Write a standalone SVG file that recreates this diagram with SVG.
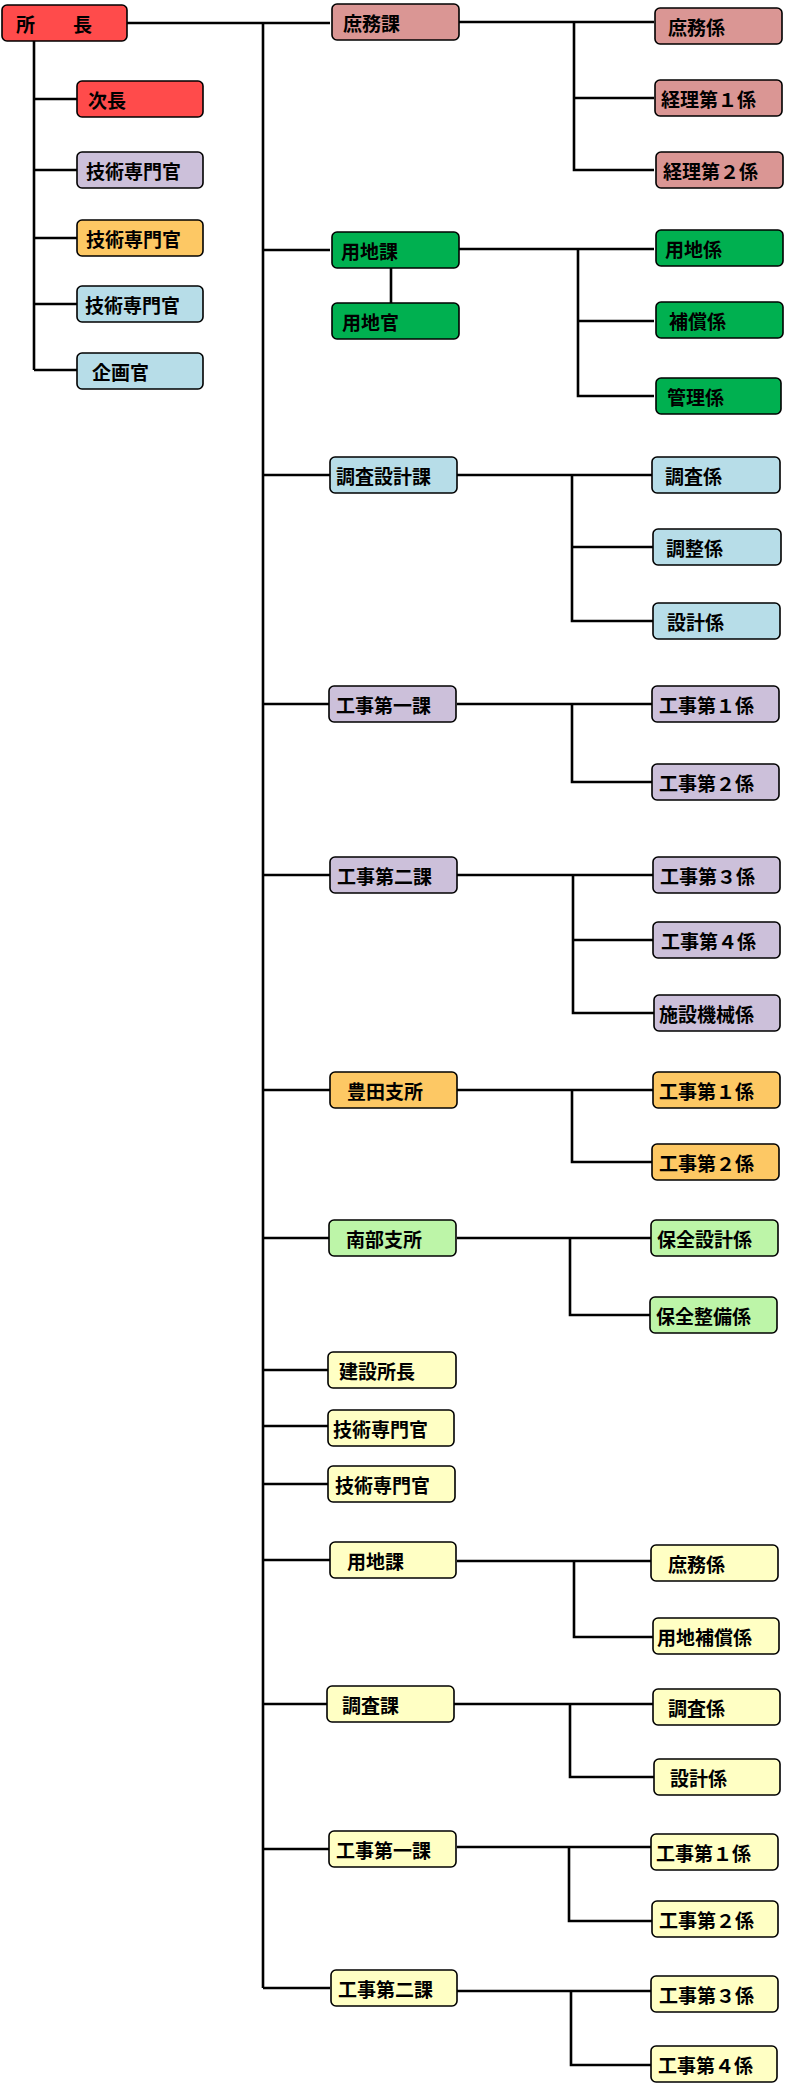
<svg xmlns="http://www.w3.org/2000/svg" width="786" height="2084" viewBox="0 0 786 2084">
<style>
rect{stroke:#000;stroke-width:1.6}
text{font-family:"Noto Sans CJK JP","Liberation Sans",sans-serif;font-weight:bold;font-size:19px;fill:#000;dominant-baseline:central}
.c{fill:none;stroke:#000;stroke-width:2.6}
.red{fill:#ff4b4b}.pink{fill:#da9694}.grn{fill:#00b050}.blu{fill:#b7dde8}.pur{fill:#ccc0da}.org{fill:#fdc864}.lg{fill:#bdf5a8}.yel{fill:#ffffc4}
</style>
<g id="connectors" class="c">
<path d="M127 23H330M263 23V1988M34 41V370M34 99H77M34 170H77M34 238H77M34 304H77M34 370H77"/>
<path d="M263 250H330M263 475H330M263 704H330M263 875H330M263 1090H330M263 1238H330M263 1370H330M263 1426H330M263 1484H330M263 1560H330M263 1704H330M263 1849H330M263 1988H330M391 268V303"/>
<path d="M457 22H654M574 22V170H654M574 98H654"/>
<path d="M457 249H654M578 249V396H654M578 321H654"/>
<path d="M457 475H654M572 475V621H654M572 547H654"/>
<path d="M457 704H654M572 704V782H654"/>
<path d="M457 875H654M573 875V1013H654M573 940H654"/>
<path d="M457 1090H654M572 1090V1162H654"/>
<path d="M457 1238H654M570 1238V1315H654"/>
<path d="M457 1561H654M574 1561V1637H654"/>
<path d="M454 1704H654M570 1704V1777H654"/>
<path d="M457 1847H654M569 1847V1921H654"/>
<path d="M457 1991H654M571 1991V2065H654"/>
</g>
<g id="n0"><rect class="red" x="2" y="5" width="125" height="36" rx="5"/><text x="16" y="23">所　　長</text></g>
<g id="l1"><rect class="red" x="77" y="81" width="126" height="36" rx="5"/><text x="88" y="99">次長</text></g>
<g id="l2"><rect class="pur" x="77" y="152" width="126" height="36" rx="5"/><text x="86" y="170">技術専門官</text></g>
<g id="l3"><rect class="org" x="77" y="220" width="126" height="36" rx="5"/><text x="86" y="238">技術専門官</text></g>
<g id="l4"><rect class="blu" x="77" y="286" width="126" height="36" rx="5"/><text x="85" y="304">技術専門官</text></g>
<g id="l5"><rect class="blu" x="77" y="353" width="126" height="36" rx="5"/><text x="92" y="371">企画官</text></g>

<g id="m1"><rect class="pink" x="332" y="4" width="127" height="36" rx="5"/><text x="343" y="22">庶務課</text></g>
<g id="m2"><rect class="grn" x="332" y="232" width="127" height="36" rx="5"/><text x="341" y="250">用地課</text></g>
<g id="m2b"><rect class="grn" x="332" y="303" width="127" height="36" rx="5"/><text x="342" y="321">用地官</text></g>
<g id="m3"><rect class="blu" x="330" y="457" width="127" height="36" rx="5"/><text x="336" y="475">調査設計課</text></g>
<g id="m4"><rect class="pur" x="329" y="686" width="127" height="36" rx="5"/><text x="336" y="704">工事第一課</text></g>
<g id="m5"><rect class="pur" x="330" y="857" width="127" height="36" rx="5"/><text x="337" y="875">工事第二課</text></g>
<g id="m6"><rect class="org" x="330" y="1072" width="127" height="36" rx="5"/><text x="347" y="1090">豊田支所</text></g>
<g id="m7"><rect class="lg" x="329" y="1220" width="127" height="36" rx="5"/><text x="346" y="1238">南部支所</text></g>
<g id="m8"><rect class="yel" x="328" y="1352" width="128" height="36" rx="5"/><text x="339" y="1370">建設所長</text></g>
<g id="m9"><rect class="yel" x="328" y="1410" width="126" height="36" rx="5"/><text x="333" y="1428">技術専門官</text></g>
<g id="m10"><rect class="yel" x="328" y="1466" width="127" height="36" rx="5"/><text x="335" y="1484">技術専門官</text></g>
<g id="m11"><rect class="yel" x="330" y="1542" width="126" height="36" rx="5"/><text x="347" y="1560">用地課</text></g>
<g id="m12"><rect class="yel" x="327" y="1686" width="127" height="36" rx="5"/><text x="342" y="1704">調査課</text></g>
<g id="m13"><rect class="yel" x="329" y="1831" width="127" height="36" rx="5"/><text x="336" y="1849">工事第一課</text></g>
<g id="m14"><rect class="yel" x="331" y="1970" width="126" height="36" rx="5"/><text x="338" y="1988">工事第二課</text></g>

<g id="r1"><rect class="pink" x="655" y="8" width="127" height="36" rx="5"/><text x="668" y="26">庶務係</text></g>
<g id="r2"><rect class="pink" x="655" y="80" width="127" height="36" rx="5"/><text x="661" y="98">経理第１係</text></g>
<g id="r3"><rect class="pink" x="656" y="152" width="127" height="36" rx="5"/><text x="663" y="170">経理第２係</text></g>
<g id="r4"><rect class="grn" x="656" y="230" width="127" height="36" rx="5"/><text x="665" y="248">用地係</text></g>
<g id="r5"><rect class="grn" x="656" y="302" width="127" height="36" rx="5"/><text x="669" y="320">補償係</text></g>
<g id="r6"><rect class="grn" x="656" y="378" width="125" height="36" rx="5"/><text x="667" y="396">管理係</text></g>
<g id="r7"><rect class="blu" x="652" y="457" width="128" height="36" rx="5"/><text x="665" y="475">調査係</text></g>
<g id="r8"><rect class="blu" x="653" y="529" width="128" height="36" rx="5"/><text x="666" y="547">調整係</text></g>
<g id="r9"><rect class="blu" x="653" y="603" width="127" height="36" rx="5"/><text x="667" y="621">設計係</text></g>
<g id="r10"><rect class="pur" x="652" y="686" width="127" height="36" rx="5"/><text x="659" y="704">工事第１係</text></g>
<g id="r11"><rect class="pur" x="652" y="764" width="127" height="36" rx="5"/><text x="659" y="782">工事第２係</text></g>
<g id="r12"><rect class="pur" x="653" y="857" width="127" height="36" rx="5"/><text x="660" y="875">工事第３係</text></g>
<g id="r13"><rect class="pur" x="653" y="922" width="127" height="36" rx="5"/><text x="661" y="940">工事第４係</text></g>
<g id="r14"><rect class="pur" x="654" y="995" width="126" height="36" rx="5"/><text x="659" y="1013">施設機械係</text></g>
<g id="r15"><rect class="org" x="653" y="1072" width="127" height="36" rx="5"/><text x="659" y="1090">工事第１係</text></g>
<g id="r16"><rect class="org" x="652" y="1144" width="127" height="36" rx="5"/><text x="659" y="1162">工事第２係</text></g>
<g id="r17"><rect class="lg" x="651" y="1220" width="127" height="36" rx="5"/><text x="657" y="1238">保全設計係</text></g>
<g id="r18"><rect class="lg" x="650" y="1297" width="127" height="36" rx="5"/><text x="656" y="1315">保全整備係</text></g>
<g id="r19"><rect class="yel" x="651" y="1545" width="127" height="36" rx="5"/><text x="668" y="1563">庶務係</text></g>
<g id="r20"><rect class="yel" x="653" y="1618" width="126" height="36" rx="5"/><text x="657" y="1636">用地補償係</text></g>
<g id="r21"><rect class="yel" x="653" y="1689" width="127" height="36" rx="5"/><text x="668" y="1707">調査係</text></g>
<g id="r22"><rect class="yel" x="654" y="1759" width="126" height="36" rx="5"/><text x="670" y="1777">設計係</text></g>
<g id="r23"><rect class="yel" x="651" y="1834" width="127" height="36" rx="5"/><text x="656" y="1852">工事第１係</text></g>
<g id="r24"><rect class="yel" x="652" y="1901" width="126" height="36" rx="5"/><text x="659" y="1919">工事第２係</text></g>
<g id="r25"><rect class="yel" x="651" y="1976" width="127" height="36" rx="5"/><text x="659" y="1994">工事第３係</text></g>
<g id="r26"><rect class="yel" x="651" y="2046" width="126" height="36" rx="5"/><text x="658" y="2064">工事第４係</text></g>
</svg>
